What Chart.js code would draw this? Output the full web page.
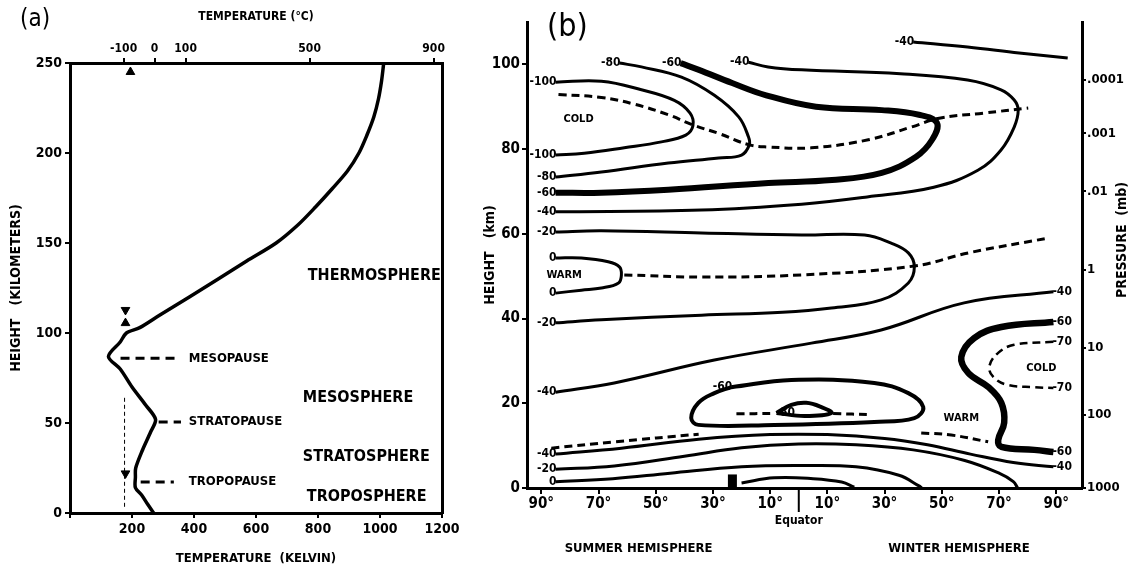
<!DOCTYPE html>
<html>
<head>
<meta charset="utf-8">
<script src="https://cdn.jsdelivr.net/npm/chart.js@4.4.1/dist/chart.umd.min.js"></script>
<style>
html, body { margin: 0; padding: 0; background: #fff; }
#wrap { position: relative; width: 1132px; height: 570px; }
#ca { position: absolute; left: 0; top: 0; }
#cb { position: absolute; left: 470px; top: 0; }
</style>
</head>
<body>
<div id="wrap">
  <canvas id="ca" width="470" height="570"></canvas>
  <canvas id="cb" width="662" height="570"></canvas>
</div>
<script>
// ---------- panel (a): mean temperature profile ----------
const heightKm = [0, 5, 10, 14, 20, 25, 35, 45, 52, 60, 70, 80, 87, 95, 100, 103, 110, 120, 130, 140, 150, 160, 170, 180, 190, 200, 210, 220, 230, 240, 250];
const tempK    = [270, 250, 231, 211, 211, 212, 234, 260, 276, 244, 200, 162, 124, 162, 182, 225, 290, 385, 478, 570, 665, 735, 792, 845, 895, 932, 958, 980, 995, 1005, 1012];
const celsiusTicks = [-100, 0, 100, 500, 900];

const layerNames = ['THERMOSPHERE', 'MESOSPHERE', 'STRATOSPHERE', 'TROPOSPHERE'];
const layerK  = [767, 751, 751, 764];
const layerKm = [132, 64, 31, 9];

const pauseNames = ['MESOPAUSE', 'STRATOPAUSE', 'TROPOPAUSE'];
const pauseKm = [86, 50.5, 17.2];
const pauseFromK = [163, 286, 228];
const pauseToK = [351, 358, 335];
const pauseLabelK = 377;

const markK  = [195, 179, 179, 179];
const markKm = [245, 112.8, 105.5, 22];
const markUp = [true, false, true, false];

const midlatK = 176;
const midlatKm = [64, 2];

// ---------- panel (b): zonal mean temperature cross-section [lat, km] ----------
const latTicks = [-90, -70, -50, -30, -10, 10, 30, 50, 70, 90];
const kmTicks = [0, 20, 40, 60, 80, 100];
const pressureLabels = ['1000', '100', '10', '1', '.01', '.001', '.0001'];
const pressureKm = [0, 17.3, 33.1, 51.5, 70, 83.7, 96.3];

const cTopLine    = [[40, 105.3], [59, 104.1], [77, 102.7], [94, 101.5]];
const cInnerCold  = [[-85, 95.8], [-69, 96], [-55, 94], [-43.5, 91.5], [-38, 88.5], [-37, 85.5], [-39.5, 83.3], [-48, 81.7], [-61, 80.3], [-75, 79], [-85, 78.6]];
const cOuterCold  = [[-62.7, 100.3], [-55, 99.4], [-41, 97], [-29.5, 92.7], [-21, 87.6], [-17.6, 82.9], [-17.3, 81], [-20, 78.6], [-28, 77.9], [-45.6, 76.7], [-69, 74.6], [-85, 73.4]];
const cThickCold  = [[-41.3, 100.3], [-34.9, 98.7], [-23.3, 95.6], [-11.4, 92.7], [6, 90], [29, 89.2], [42, 88.1], [48.3, 86.2], [46.6, 82.2], [41, 78.2], [29, 74.4], [11.6, 72.7], [-10.6, 72], [-45.6, 70.4], [-69, 69.7], [-85, 69.7]];
const cNext       = [[-17.6, 100.5], [-10.7, 99.4], [1, 98.7], [35.5, 97.8], [59, 96.3], [70.7, 94], [75.3, 91.6], [76.7, 89.2], [75.3, 85.2], [70.7, 79.8], [62.6, 75], [47.2, 71], [23.9, 68.7], [1, 67], [-34, 65.6], [-85, 65.2]];
const cMesoAxis   = [[-84, 92.9], [-69, 92.2], [-57.5, 90.6], [-45.6, 88.1], [-37, 85.7], [-28, 83.7], [-17.3, 81], [-10.7, 80.5], [4.4, 80.3], [24.3, 82.2], [39.3, 85.2], [49.1, 87.3], [64.8, 88.5], [80.2, 89.7]];
const cWarmTongue = [[-85, 60.4], [-69, 60.7], [-34, 60.2], [1, 59.7], [23, 59.7], [32.3, 57.8], [38.3, 55.5], [40.4, 52.2], [38.3, 48.4], [28.8, 44.4], [11.4, 42.5], [-5.7, 41.5], [-34, 40.8], [-69, 39.7], [-85, 39]];
const cSmallWarm  = [[-85, 54.3], [-76, 54.3], [-66.6, 53.4], [-62.7, 52.2], [-62, 50.3], [-63, 48.4], [-69, 47.2], [-76, 46.7], [-85, 46]];
const cStratAxis  = [[-61, 50.3], [-34, 49.8], [1, 50.3], [40.4, 52.4], [59.3, 55.5], [87.2, 59]];
const cLine4      = [[-85, 22.6], [-64.5, 24.8], [-29.5, 30.2], [4.4, 34.2], [28.8, 37.3], [57.8, 43.7], [89, 46.3]];
const cThickS     = [[89, 39.2], [70.8, 38], [61.3, 35.4], [56.8, 30.9], [59.3, 27.1], [66.3, 23.8], [70.8, 20.1], [71.8, 15.4], [69.7, 11.3], [70.8, 9.7], [82.3, 9], [89, 8.5]];
const cColdRing   = [[89, 34.5], [75.3, 33.8], [69.7, 31.9], [66.6, 28.6], [68.3, 26], [73.2, 24.3], [82.3, 23.8], [89, 23.6]];
const cTropLoop   = [[-23.6, 23.8], [-2.6, 25.5], [26.4, 24.8], [38.3, 22.4], [43.5, 19.1], [40.4, 16.5], [26.4, 15.6], [-8.6, 14.9], [-35.1, 14.9], [-37.6, 16.5], [-35.1, 20.1], [-29.5, 22.4], [-23.6, 23.8]];
const cTropCore   = [[-7.8, 17.7], [-2.6, 19.6], [2.6, 20.1], [7.9, 19.1], [11.4, 17.7], [2, 17], [-7.8, 17.7]];
const cCoreAxisW  = [[-21.8, 17.5], [-8.9, 17.6]];
const cCoreAxisE  = [[12, 17.6], [25.3, 17.3]];
const cLowDashS   = [[-86.5, 9.4], [-64.5, 10.9], [-35, 12.7]];
const cLowDashN   = [[42.8, 13], [53.3, 12.5], [66.2, 10.9]];
const cLineA      = [[-85, 8], [-62, 9.4], [-35, 11.5], [-10, 12.6], [10, 12.6], [30, 11.7], [45, 10.2], [60, 8], [75, 6], [89, 5]];
const cLineB      = [[-85, 4.4], [-64.5, 5.2], [-40, 7.5], [-20, 9.5], [0, 10.4], [20, 10.2], [40, 9], [58, 6.5], [70, 3.5], [75, 1.5], [76.5, 0]];
const cLineC      = [[-85, 1.5], [-65, 2.2], [-45, 3.5], [-20, 5], [0, 5.3], [20, 5], [35, 3], [42, 0.5], [43, 0]];
const cInnerWarm  = [[-20, 1.2], [-8.6, 2.4], [5, 2.2], [15, 1.4], [19.4, 0.2]];
const cBar        = [[-23.2, 0], [-23.2, 3.2]];

const regionText = ['COLD', 'WARM', 'WARM', 'COLD'];
const regionLat = [-77, -82, 56.8, 84.8];
const regionKm = [87, 50.3, 16.5, 28.3];

const FONT = "'DejaVu Sans Condensed', 'Liberation Sans Narrow', 'DejaVu Sans', sans-serif";
Chart.defaults.font.family = FONT;
Chart.defaults.color = '#000';

function pts(arr) { return arr.map(p => ({x: p[0], y: p[1]})); }

// ---------- chart (a) ----------
const aDatasets = [{
  data: heightKm.map((h, i) => ({x: tempK[i], y: h})),
  showLine: true, borderColor: '#000', borderWidth: 3.5, pointRadius: 0, tension: 0.3
}];
pauseNames.forEach((n, i) => {
  aDatasets.push({
    data: [{x: pauseFromK[i], y: pauseKm[i]}, {x: pauseToK[i], y: pauseKm[i]}],
    showLine: true, borderColor: '#000', borderWidth: 3, borderDash: [9, 6], pointRadius: 0
  });
});
aDatasets.push({
  data: midlatKm.map(h => ({x: midlatK, y: h})),
  showLine: true, borderColor: '#000', borderWidth: 1, borderDash: [4, 3], pointRadius: 0
});
aDatasets.push({
  data: markK.map((k, i) => ({x: k, y: markKm[i]})),
  showLine: false, pointStyle: 'triangle', pointRadius: 5,
  pointRotation: markUp.map(u => u ? 0 : 180),
  backgroundColor: '#000', borderColor: '#000'
});

const aText = {
  id: 'aText',
  afterDatasetsDraw(chart) {
    const {ctx, chartArea, scales} = chart;
    const x = scales.x, y = scales.y;
    ctx.save();
    ctx.fillStyle = '#000';
    ctx.textBaseline = 'middle';
    ctx.textAlign = 'left';
    ctx.font = 'bold 16px ' + FONT;
    layerNames.forEach((n, i) => ctx.fillText(n, x.getPixelForValue(layerK[i]), y.getPixelForValue(layerKm[i])));
    ctx.font = 'bold 13px ' + FONT;
    pauseNames.forEach((n, i) => ctx.fillText(n, x.getPixelForValue(pauseLabelK) + 2, y.getPixelForValue(pauseKm[i])));
    ctx.font = '24px ' + FONT;
    ctx.fillText('(a)', chartArea.left - 50, 20);
    ctx.restore();
  }
};

new Chart(document.getElementById('ca'), {
  type: 'scatter',
  data: {datasets: aDatasets},
  options: {
    responsive: false, animation: false,
    layout: {padding: 0},
    plugins: {legend: {display: false}, tooltip: {enabled: false}},
    scales: {
      x: {
        type: 'linear', position: 'bottom', min: 0, max: 1200,
        afterFit: s => { s.height = 57; },
        ticks: {stepSize: 200, maxRotation: 0, font: {size: 14, weight: 'bold'}, padding: 3,
                callback: v => v === 0 ? '' : String(v)},
        grid: {drawOnChartArea: false, color: '#000', tickLength: 5, lineWidth: 2},
        border: {color: '#000', width: 3},
        title: {display: true, text: 'TEMPERATURE  (KELVIN)', font: {size: 13, weight: 'bold'}, padding: {top: 4, bottom: 4}}
      },
      x2: {
        type: 'linear', position: 'top', min: 0, max: 1200,
        afterFit: s => { s.height = 63; },
        afterBuildTicks: s => { s.ticks = celsiusTicks.map(c => ({value: c + 273})); },
        ticks: {autoSkip: false, maxRotation: 0, font: {size: 12, weight: 'bold'}, padding: 2,
                callback: v => String(Math.round(v - 273))},
        grid: {drawOnChartArea: false, color: '#000', tickLength: 5, lineWidth: 2},
        border: {color: '#000', width: 3},
        title: {display: true, text: 'TEMPERATURE (°C)', font: {size: 12, weight: 'bold'}, padding: {top: 10, bottom: 0}}
      },
      y: {
        type: 'linear', position: 'left', min: 0, max: 250,
        afterFit: s => { s.width = 70; },
        ticks: {stepSize: 50, font: {size: 14, weight: 'bold'}, padding: 3},
        grid: {drawOnChartArea: false, color: '#000', tickLength: 5, lineWidth: 2},
        border: {color: '#000', width: 3},
        title: {display: true, text: 'HEIGHT   (KILOMETERS)', font: {size: 14, weight: 'bold'}, padding: {top: 8, bottom: 0}}
      },
      y2: {
        type: 'linear', position: 'right', min: 0, max: 250,
        afterFit: s => { s.width = 28; },
        ticks: {display: false, stepSize: 25},
        grid: {drawOnChartArea: false, drawTicks: false},
        border: {color: '#000', width: 3}
      }
    }
  },
  plugins: [aText]
});

// ---------- chart (b) ----------
const contours = [
  {d: cTopLine,    w: 3,   s: '-40', sSide: 'left'},
  {d: cInnerCold,  w: 3,   s: '-100', sSide: 'left', e: '-100', eSide: 'left'},
  {d: cOuterCold,  w: 3,   s: '-80', sSide: 'left', e: '-80', eSide: 'left'},
  {d: cThickCold,  w: 6,   s: '-60', sSide: 'left', e: '-60', eSide: 'left'},
  {d: cNext,       w: 3,   s: '-40', sSide: 'left', e: '-40', eSide: 'left'},
  {d: cMesoAxis,   w: 3,   dash: true},
  {d: cWarmTongue, w: 3,   s: '-20', sSide: 'left', e: '-20', eSide: 'left'},
  {d: cSmallWarm,  w: 3,   s: '0', sSide: 'left', e: '0', eSide: 'left'},
  {d: cStratAxis,  w: 3,   dash: true},
  {d: cLine4,      w: 3,   s: '-40', sSide: 'left', e: '-40', eSide: 'right'},
  {d: cThickS,     w: 6.5, s: '-60', sSide: 'right', e: '-60', eSide: 'right'},
  {d: cColdRing,   w: 2.5, dash: true, s: '-70', sSide: 'right', e: '-70', eSide: 'right'},
  {d: cTropLoop,   w: 4,   s: '-60', sSide: 'left'},
  {d: cTropCore,   w: 4,   s: '-80', sSide: 'right'},
  {d: cCoreAxisW,  w: 3,   dash: true},
  {d: cCoreAxisE,  w: 3,   dash: true},
  {d: cLowDashS,   w: 3,   dash: true},
  {d: cLowDashN,   w: 3,   dash: true},
  {d: cLineA,      w: 3,   s: '-40', sSide: 'left', e: '-40', eSide: 'right'},
  {d: cLineB,      w: 3,   s: '-20', sSide: 'left'},
  {d: cLineC,      w: 3,   s: '0', sSide: 'left'},
  {d: cInnerWarm,  w: 3},
  {d: cBar,        w: 9}
];

const bDatasets = contours.map(c => ({
  data: pts(c.d), showLine: true, borderColor: '#000', borderWidth: c.w,
  borderDash: c.dash ? [8, 5] : [], pointRadius: 0, tension: 0.4,
  lblStart: c.s, lblStartSide: c.sSide, lblEnd: c.e, lblEndSide: c.eSide
}));

const bText = {
  id: 'bText',
  afterDatasetsDraw(chart) {
    const {ctx, chartArea, scales} = chart;
    const x = scales.x, y = scales.y;
    ctx.save();
    ctx.fillStyle = '#000';
    ctx.strokeStyle = '#000';
    ctx.textBaseline = 'middle';
    // contour labels
    ctx.font = 'bold 12px ' + FONT;
    chart.data.datasets.forEach((ds, i) => {
      const meta = chart.getDatasetMeta(i);
      const put = (txt, side, el) => {
        if (!txt) return;
        ctx.textAlign = side === 'left' ? 'right' : 'left';
        ctx.fillText(txt, el.x + (side === 'left' ? 1 : -1), el.y);
      };
      put(ds.lblStart, ds.lblStartSide, meta.data[0]);
      put(ds.lblEnd, ds.lblEndSide, meta.data[meta.data.length - 1]);
    });
    // region words
    ctx.font = 'bold 11px ' + FONT;
    ctx.textAlign = 'center';
    regionText.forEach((t, i) => ctx.fillText(t, x.getPixelForValue(regionLat[i]), y.getPixelForValue(regionKm[i])));
    // equator marker
    const ex = x.getPixelForValue(0);
    ctx.lineWidth = 2;
    ctx.beginPath();
    ctx.moveTo(ex, chartArea.bottom);
    ctx.lineTo(ex, chartArea.bottom + 24);
    ctx.stroke();
    ctx.font = 'bold 12px ' + FONT;
    ctx.fillText('Equator', ex, chartArea.bottom + 33);
    // hemisphere captions
    ctx.font = 'bold 13px ' + FONT;
    ctx.fillText('SUMMER HEMISPHERE', x.getPixelForValue(-56), chartArea.bottom + 61);
    ctx.fillText('WINTER HEMISPHERE', x.getPixelForValue(56), chartArea.bottom + 61);
    // right axis title, reading upward
    ctx.save();
    ctx.translate(chart.width - 10, (chartArea.top + chartArea.bottom) / 2 - 15);
    ctx.rotate(-Math.PI / 2);
    ctx.font = 'bold 14px ' + FONT;
    ctx.fillText('PRESSURE  (mb)', 0, 0);
    ctx.restore();
    // panel letter
    ctx.font = '32px ' + FONT;
    ctx.textAlign = 'left';
    ctx.fillText('(b)', chartArea.left + 20, 28);
    ctx.restore();
  }
};

new Chart(document.getElementById('cb'), {
  type: 'scatter',
  data: {datasets: bDatasets},
  options: {
    responsive: false, animation: false,
    layout: {padding: {top: 22}},
    plugins: {legend: {display: false}, tooltip: {enabled: false}},
    scales: {
      x: {
        type: 'linear', position: 'bottom', min: -95, max: 99,
        afterFit: s => { s.height = 82; },
        afterBuildTicks: s => { s.ticks = latTicks.map(v => ({value: v})); },
        ticks: {autoSkip: false, maxRotation: 0, font: {size: 15, weight: 'bold'}, padding: 1,
                callback: v => Math.abs(v) + '°'},
        grid: {drawOnChartArea: false, color: '#000', tickLength: 6, lineWidth: 2},
        border: {color: '#000', width: 3}
      },
      y: {
        type: 'linear', position: 'left', min: 0, max: 110,
        afterFit: s => { s.width = 57; },
        afterBuildTicks: s => { s.ticks = kmTicks.map(v => ({value: v})); },
        ticks: {font: {size: 15, weight: 'bold'}, padding: 2},
        grid: {drawOnChartArea: false, color: '#000', tickLength: 5, lineWidth: 2},
        border: {color: '#000', width: 3},
        title: {display: true, text: 'HEIGHT   (km)', font: {size: 14, weight: 'bold'}, padding: {top: 12, bottom: 0}}
      },
      y2: {
        type: 'linear', position: 'right', min: 0, max: 110,
        afterFit: s => { s.width = 50; },
        afterBuildTicks: s => { s.ticks = pressureKm.map(v => ({value: v})); },
        ticks: {autoSkip: false, font: {size: 13, weight: 'bold'}, padding: 1,
                callback: (v, i) => pressureLabels[i]},
        grid: {drawOnChartArea: false, color: '#000', tickLength: 4, lineWidth: 2},
        border: {color: '#000', width: 3}
      }
    }
  },
  plugins: [bText]
});
</script>
</body>
</html>
